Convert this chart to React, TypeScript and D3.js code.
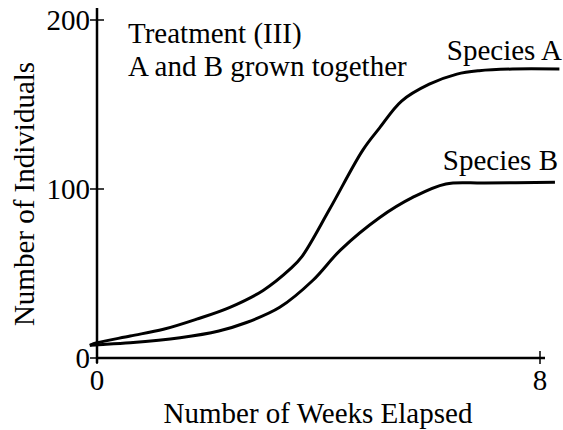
import React from "react";
import * as d3 from "d3";

const weeksA = [-0.13, 0, 0.6, 1.2, 1.8, 2.4, 3.0, 3.5, 3.7, 4.2, 4.8, 5.1, 5.5, 6.0, 6.5, 6.9, 7.5, 8.35];
const valuesA = [7.5, 9, 13, 17, 23, 30, 40, 53, 60, 88, 123, 136, 152, 162, 168, 170, 171, 171];
const weeksB = [-0.13, 0, 0.6, 1.5, 2.2, 2.7, 3.3, 3.9, 4.4, 5.1, 5.7, 6.3, 7.0, 8.27];
const valuesB = [7.5, 7.8, 9, 12, 16, 21, 30, 46, 64, 83, 95, 103, 103.5, 104];
const xTicks = [0, 8];
const yTicks = [0, 100, 200];
const seriesNames = ["Species A", "Species B"];

export default function App() {
  const W = 563, H = 430;
  const x = d3.scaleLinear().domain([0, 8]).range([97, 540]);
  const y = d3.scaleLinear().domain([0, 200]).range([358, 20]);
  const line = d3
    .line<[number, number]>()
    .x((d) => x(d[0]))
    .y((d) => y(d[1]))
    .curve(d3.curveCatmullRom.alpha(0.5));
  const dA = line(weeksA.map((w, i) => [w, valuesA[i]]));
  const dB = line(weeksB.map((w, i) => [w, valuesB[i]]));
  const font = '"Liberation Serif", "DejaVu Serif", "Times New Roman", Times, serif';
  const ts: React.CSSProperties = { fontFamily: font };
  const fs = 29;
  return (
    <svg
      width={W}
      height={H}
      style={{ position: "absolute", left: 0, top: 0, background: "#fff", fontFamily: font }}
    >
      <line x1={x(0)} x2={x(0)} y1={8} y2={y(0) + 5} stroke="#000" strokeWidth={2.5} />
      <line x1={x(0)} x2={545} y1={y(0)} y2={y(0)} stroke="#000" strokeWidth={2.5} />
      {yTicks.map((t) => (
        <g key={"y" + t}>
          <line x1={x(0) - 7} x2={x(0) + 7} y1={y(t)} y2={y(t)} stroke="#000" strokeWidth={1.5} />
          <text x={x(0) - 7} y={y(t) + 10} textAnchor="end" fontSize={fs} style={ts}>
            {t}
          </text>
        </g>
      ))}
      {xTicks.map((t) => (
        <g key={"x" + t}>
          <line x1={x(t)} x2={x(t)} y1={y(0) - 7} y2={y(0) + 6} stroke="#000" strokeWidth={1.5} />
          <text x={x(t)} y={390} textAnchor="middle" fontSize={fs} style={ts}>
            {t}
          </text>
        </g>
      ))}
      <text x={318} y={423} textAnchor="middle" fontSize={fs} style={ts}>
        Number of Weeks Elapsed
      </text>
      <text
        transform={`translate(34, 194) rotate(-90)`}
        textAnchor="middle"
        fontSize={fs}
        style={ts}
      >
        Number of Individuals
      </text>
      <text x={128} y={43} fontSize={fs} style={ts}>
        Treatment (III)
      </text>
      <text x={128} y={76} fontSize={fs} style={ts}>
        A and B grown together
      </text>
      <path d={dA || ""} fill="none" stroke="#000" strokeWidth={3} />
      <path d={dB || ""} fill="none" stroke="#000" strokeWidth={3} />
      <text x={562} y={60} textAnchor="end" fontSize={fs} style={ts}>
        {seriesNames[0]}
      </text>
      <text x={558} y={170} textAnchor="end" fontSize={fs} style={ts}>
        {seriesNames[1]}
      </text>
    </svg>
  );
}
